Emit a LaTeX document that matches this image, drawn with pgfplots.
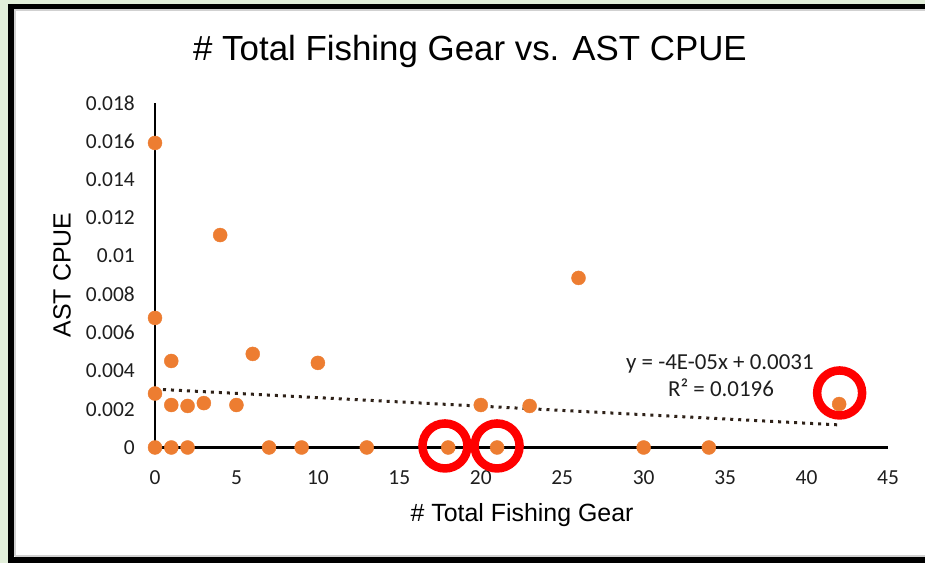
\documentclass[border=0pt]{standalone}
\usepackage{pgfplots}
\pgfplotsset{compat=1.18}
\usepackage{fontspec}
\setmainfont{Liberation Sans}
\newfontfamily\calfont{Carlito}
\definecolor{bggreen}{HTML}{E2EFDA}
\definecolor{ptorange}{HTML}{ED7D31}
\definecolor{trendc}{HTML}{2E2118}
\definecolor{ticktext}{HTML}{1E1E1E}
\begin{document}
\begin{tikzpicture}[x=1bp,y=1bp]
\useasboundingbox (0,0) rectangle (925,563);
\fill[bggreen] (0,0) rectangle (925,563);
\fill[black] (8,0) rectangle (925,559);
\fill[white] (14,6) rectangle (925,554);
\draw[black!18, line width=2bp] (15,7) -- (15,553) -- (925,553);
\draw[black!18, line width=2bp] (15,7) -- (925,7);
\begin{axis}[
  at={(155bp,115.5bp)}, anchor=south west,
  scale only axis, width=733bp, height=344.5bp,
  xmin=0, xmax=45, ymin=0, ymax=0.018,
  axis lines=left,
  axis line style={-, line width=2.5bp, black},
  major tick length=0pt,
  scaled y ticks=false, scaled x ticks=false,
  /pgf/number format/assume math mode=true,
  xtick={0,5,10,15,20,25,30,35,40,45},
  xticklabels={0,5,10,15,20,25,30,35,40,45},
  ytick={0,0.002,0.004,0.006,0.008,0.01,0.012,0.014,0.016,0.018},
  yticklabels={0,0.002,0.004,0.006,0.008,0.01,0.012,0.014,0.016,0.018},
  xticklabel style={font=\calfont\fontsize{21.5}{24}\selectfont, text=ticktext, inner sep=0pt, anchor=base, yshift=-37bp},
  yticklabel style={font=\calfont\fontsize{21.5}{24}\selectfont, text=ticktext, inner sep=0pt, anchor=east, xshift=-20bp},
  title={\# Total Fishing Gear vs. AST CPUE},
  title style={font=\fontsize{35}{40}\selectfont, at={(axis description cs:0.4297,1.131)}, anchor=center, inner sep=0pt},
  xlabel={\# Total Fishing Gear},
  xlabel style={font=\fontsize{25}{30}\selectfont, at={(axis description cs:0.5007,-0.196)}, anchor=center, inner sep=0pt},
  ylabel={AST CPUE},
  ylabel style={font=\fontsize{25}{30}\selectfont, at={(axis description cs:-0.1269,0.5007)}, anchor=center, rotate=0, inner sep=0pt},
  clip=false,
]
\addplot[color=trendc, line width=3bp, dash pattern=on 3bp off 5bp] coordinates {(0,0.00305) (42,0.00118)};
\addplot[only marks, mark=*, mark size=7bp, color=ptorange, mark options={draw=ptorange, fill=ptorange}] coordinates {
(0,0) (0,0.01591) (0,0.00677) (0,0.00282)
(1,0) (1,0.00452) (1,0.00222)
(2,0) (2,0.00217)
(3,0.00232)
(4,0.0111)
(5,0.00222)
(6,0.00489)
(7,0) (9,0)
(10,0.00442)
(13,0)
(18,0)
(20,0.00222)
(21,0)
(23,0.00217)
(26,0.00886)
(30,0) (34,0)
(42,0.00227)
};
\addplot[only marks, mark=o, mark size=22.5bp, color=red, line width=8.5bp, mark options={line width=8.5bp, draw=red}] coordinates {
(17.8,0.00008) (21.0,0.00008) (42.03,0.00285)
};
\node[font=\calfont\fontsize{23}{26}\selectfont, text=ticktext, anchor=base, inner sep=0pt] at (axis cs:34.68,0.0041) {y = -4E-05x + 0.0031};
\node[font=\calfont\fontsize{23}{26}\selectfont, text=ticktext, anchor=base, inner sep=0pt] at (axis cs:34.75,0.002639) {R² = 0.0196};
\end{axis}
\end{tikzpicture}
\end{document}
